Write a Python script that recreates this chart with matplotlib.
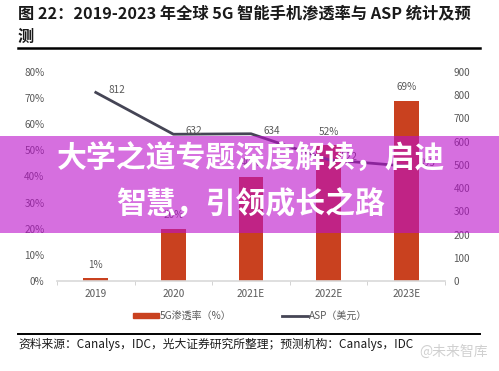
import matplotlib
matplotlib.use("Agg")
import matplotlib.pyplot as plt
from matplotlib.patches import Rectangle
from matplotlib.lines import Line2D
import numpy as np

plt.rcParams['font.family'] = ['Noto Sans CJK SC', 'DejaVu Sans']

categories = ['2019', '2020', '2021E', '2022E', '2023E']
penetration = [0.01, 0.20, 0.40, 0.52, 0.69]
pen_labels = ['1%', '20%', '40%', '52%', '69%']
asp = [812, 632, 634, 522, 495]
left_ticks = [0, 0.1, 0.2, 0.3, 0.4, 0.5, 0.6, 0.7, 0.8]
left_ticklabels = ['0%', '10%', '20%', '30%', '40%', '50%', '60%', '70%', '80%']
right_ticks = [0, 100, 200, 300, 400, 500, 600, 700, 800, 900]

title = '图 22：2019-2023 年全球 5G 智能手机渗透率与 ASP 统计及预\n测'
source = '资料来源：Canalys，IDC，光大证券研究所整理；预测机构：Canalys，IDC'
banner1 = '大学之道专题深度解读，启迪'
banner2 = '智慧，引领成长之路'

W, H = 499, 371
fig = plt.figure(figsize=(W / 100, H / 100), dpi=100)
fig.patch.set_facecolor('white')

def fx(px):
    return px / W

def fy(py):
    return 1 - py / H

bar_color = '#C9411F'
line_color = '#454555'
gray = '#595959'

ax = fig.add_axes([fx(57), fy(281), fx(445) - fx(57), fy(72) - fy(281)])
ax2 = ax.twinx()
x = np.arange(len(categories))
ax.bar(x, penetration, width=0.32, color=bar_color, zorder=2)
ax.set_xlim(-0.5, len(categories) - 0.5)
ax.set_ylim(0, 0.8)
ax.set_yticks(left_ticks)
ax.set_yticklabels(left_ticklabels)
ax.set_xticks(x)
ax.set_xticklabels(categories)
ax.set_xticks(np.arange(-0.5, len(categories), 1.0), minor=True)
ax.tick_params(axis='x', which='major', length=0, colors=gray, labelsize=7.2, pad=6)
ax.tick_params(axis='x', which='minor', length=3, color='#cccccc', direction='out')
ax.tick_params(axis='y', length=0, colors=gray, labelsize=7.2, pad=9)
for s in ['top', 'right', 'left']:
    ax.spines[s].set_visible(False)
ax.spines['bottom'].set_color('#d9d9d9')
ax.spines['bottom'].set_linewidth(1.2)

for xi, v, lab in zip(x, penetration, pen_labels):
    ax.annotate(lab, (xi, v), xytext=(0, 6), textcoords='offset points',
                ha='center', va='bottom', fontsize=7.2, color=gray)

ax2.plot(x, asp, color=line_color, linewidth=2, zorder=3)
ax2.set_ylim(0, 900)
ax2.set_yticks(right_ticks)
ax2.tick_params(axis='y', length=0, colors=gray, labelsize=7.2, pad=6)
for s in ['top', 'right', 'left', 'bottom']:
    ax2.spines[s].set_visible(False)
for xi, v in zip(x, asp):
    ax2.annotate(str(v), (xi, v), xytext=(9, 2), textcoords='offset points',
                 ha='left', va='center', fontsize=7.2, color=gray)

# Title
fig.text(fx(18), fy(5), title, ha='left', va='top', fontsize=11.7,
         fontweight='bold', color='#1a1a1a', linespacing=1.6)
fig.add_artist(Line2D([fx(18), fx(480)], [fy(48), fy(48)], color='black', linewidth=1.8))

# Legend
leg_handles = [Rectangle((0, 0), 1, 1, color=bar_color),
               Line2D([0], [0], color=line_color, linewidth=2)]
fig.legend(leg_handles, ['5G渗透率（%）', 'ASP（美元）'], loc='center',
           bbox_to_anchor=(fx(250), fy(316)), ncol=2, frameon=False,
           fontsize=7.2, labelcolor=gray, handlelength=2.6, handleheight=0.5,
           handletextpad=0.1, columnspacing=5.0)

# Bottom rule and source
fig.add_artist(Line2D([fx(18), fx(480)], [fy(334), fy(334)], color='black', linewidth=1.4))
fig.text(fx(18), fy(344), source, ha='left', va='center', fontsize=8.5, color='#1a1a1a')
fig.text(fx(488), fy(352), '@未来智库', ha='right', va='center', fontsize=10,
         color='#d0d0d0')

# Banner overlay
fig.add_artist(Rectangle((0, fy(233)), 1, fy(136) - fy(233), transform=fig.transFigure,
                         facecolor=(187 / 255, 15 / 255, 203 / 255), alpha=0.6,
                         edgecolor='none', zorder=10))
fig.text(fx(251), fy(158), banner1, ha='center', va='center', fontsize=21.5,
         fontweight='heavy', color='white', zorder=11)
fig.text(fx(251), fy(205), banner2, ha='center', va='center', fontsize=21.5,
         fontweight='heavy', color='white', zorder=11)

fig.savefig('out.png', dpi=100, facecolor='white')
